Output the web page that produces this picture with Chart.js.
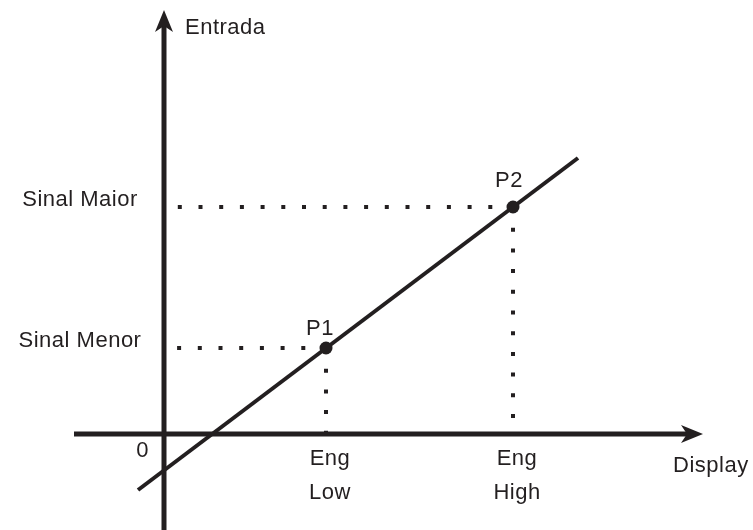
<!DOCTYPE html>
<html>
<head>
<meta charset="utf-8">
<script src="https://cdn.jsdelivr.net/npm/chart.js@4"></script>
<style>
  html, body { margin: 0; padding: 0; background: #ffffff; }
  #wrap { width: 753px; height: 530px; position: relative; }
</style>
</head>
<body>
<div id="wrap"><canvas id="c"></canvas></div>
<script>
// ---- data (arbitrary units) ----
const xTickValues = [162, 349];              // Eng Low, Eng High (Display)
const xTickLabels = [['Eng', 'Low'], ['Eng', 'High']];
const yTickValues = [86, 227];               // Sinal Menor, Sinal Maior (Entrada)
const yTickLabels = ['Sinal Menor', 'Sinal Maior'];
const pointLabels = ['P1', 'P2'];
const lineX = [-26, 414];                    // extent of the calibration line
const lineY = [-56, 276];
const xAxisRange = [-90, 528];               // horizontal axis (Display)
const yAxisRange = [-96, 413];               // vertical axis (Entrada)
const xAxisTitle = 'Display';
const yAxisTitle = 'Entrada';
const originLabel = '0';

const INK = '#231f20';
const FONT = '22px "Liberation Sans", Arial, sans-serif';

// arrowhead sprite (points right)
function makeArrow() {
  const c = document.createElement('canvas');
  c.width = 22; c.height = 18;
  const g = c.getContext('2d');
  g.fillStyle = INK;
  g.beginPath();
  g.moveTo(22, 9);
  g.lineTo(0, 0);
  g.lineTo(6, 9);
  g.lineTo(0, 18);
  g.closePath();
  g.fill();
  return c;
}
const arrow = makeArrow();

const points = xTickValues.map((x, i) => ({ x: x, y: yTickValues[i] }));

const datasets = [
  // P1 / P2 markers
  { data: points, showLine: false, pointRadius: 6.5, pointBackgroundColor: INK,
    pointBorderColor: INK, pointBorderWidth: 0, order: 0 },
  // calibration line
  { data: [{ x: lineX[0], y: lineY[0] }, { x: lineX[1], y: lineY[1] }],
    showLine: true, borderColor: INK, borderWidth: 4, pointRadius: 0, order: 1 },
  // horizontal axis with arrow
  { data: [{ x: xAxisRange[0], y: 0 }, { x: xAxisRange[1], y: 0 }],
    showLine: true, borderColor: INK, borderWidth: 5, borderCapStyle: 'butt',
    pointStyle: [false, arrow], pointRadius: [0, 11], pointRotation: [0, 0], order: 2 },
  // vertical axis with arrow
  { data: [{ x: 0, y: yAxisRange[0] }, { x: 0, y: yAxisRange[1] }],
    showLine: true, borderColor: INK, borderWidth: 5, borderCapStyle: 'butt',
    pointStyle: [false, arrow], pointRadius: [0, 11], pointRotation: [0, -90], order: 2 }
];
// dotted guide lines
points.forEach(p => {
  datasets.push({ data: [{ x: p.x, y: p.y }, { x: 0, y: p.y }], showLine: true,
    borderColor: INK, borderWidth: 4, borderDash: [4, 16.7], borderCapStyle: 'butt',
    pointRadius: 0, order: 3 });
  datasets.push({ data: [{ x: p.x, y: p.y }, { x: p.x, y: 0 }], showLine: true,
    borderColor: INK, borderWidth: 4, borderDash: [4, 16.7], borderCapStyle: 'butt',
    pointRadius: 0, order: 3 });
});

const labelPlugin = {
  id: 'labels',
  afterDatasetsDraw(chart) {
    const ctx = chart.ctx, xs = chart.scales.x, ys = chart.scales.y;
    const X = v => xs.getPixelForValue(v), Y = v => ys.getPixelForValue(v);
    ctx.save();
    ctx.fillStyle = INK;
    ctx.font = FONT;
    ctx.letterSpacing = '0.5px';
    ctx.textBaseline = 'alphabetic';
    // y tick labels
    ctx.textAlign = 'center';
    yTickLabels.forEach((t, i) => ctx.fillText(t, X(0) - 84, Y(yTickValues[i]) - 1));
    // x tick labels (two lines)
    xTickLabels.forEach((lines, i) => {
      lines.forEach((t, j) => ctx.fillText(t, X(xTickValues[i]) + 4, Y(0) + 31 + j * 34));
    });
    // point labels
    const offs = [[-6, -13], [-4, -20]];
    pointLabels.forEach((t, i) => ctx.fillText(t, X(xTickValues[i]) + offs[i][0], Y(yTickValues[i]) + offs[i][1]));
    // origin
    ctx.textAlign = 'right';
    ctx.fillText(originLabel, X(0) - 15, Y(0) + 23);
    // axis titles
    ctx.textAlign = 'left';
    ctx.fillText(yAxisTitle, X(0) + 21, 34);
    ctx.fillText(xAxisTitle, X(xAxisRange[1]) - 19, Y(0) + 38);
    ctx.restore();
  }
};

new Chart(document.getElementById('c'), {
  type: 'scatter',
  data: { datasets: datasets },
  options: {
    responsive: true,
    maintainAspectRatio: false,
    animation: false,
    events: [],
    layout: { padding: 0, autoPadding: false },
    plugins: { legend: { display: false }, tooltip: { enabled: false } },
    scales: {
      x: { type: 'linear', display: false, min: -164, max: 589 },
      y: { type: 'linear', display: false, min: -96, max: 434 }
    }
  },
  plugins: [labelPlugin]
});
</script>
</body>
</html>
